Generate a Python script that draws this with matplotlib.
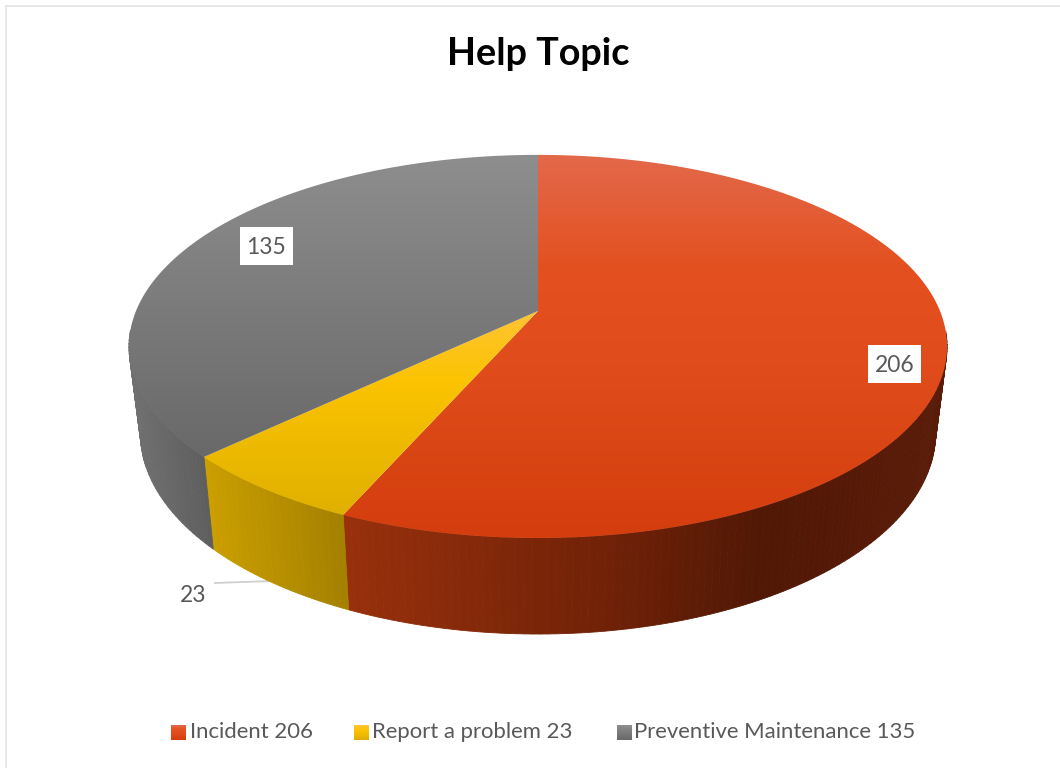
import numpy as np
import matplotlib
matplotlib.use("Agg")
import matplotlib.pyplot as plt
from matplotlib.patches import Polygon, Rectangle
from matplotlib.colors import LinearSegmentedColormap

plt.rcParams['font.family'] = ['Lato', 'DejaVu Sans']

title = "Help Topic"
categories = ["Incident", "Report a problem", "Preventive Maintenance"]
values = [206, 23, 135]

# top-face gradient stops (relative height in slice bbox)
top_stops = [
    [(0.0, "#E2694B"), (0.30, "#E4501F"), (0.55, "#E04C1B"), (1.0, "#D43E0E")],
    [(0.0, "#FFC433"), (0.35, "#FBC300"), (1.0, "#E0B000")],
    [(0.0, "#8E8E8E"), (0.5, "#7B7B7B"), (1.0, "#696969")],
]
# side-wall gradient stops (relative x in slice extent)
wall_stops = [
    [(0.0, "#98300C"), (0.45, "#6F2107"), (0.7, "#501805"), (1.0, "#5A1C09")],
    [(0.0, "#CB9F00"), (1.0, "#A48000")],
    [(0.0, "#707070"), (1.0, "#5E5E5E")],
]

# projection of the pie disc (pixels)
CX, CY, A, B, K = 538.0, 311.0, 402.0, 185.0, 0.185
CY2, B2, S2 = 396.0, 194.0, 0.972


def project(theta, cy, b, s):
    u, v = np.sin(theta), -np.cos(theta)
    w = 1 - K * v
    return CX + s * A * u / w, cy + b * v / w


fig = plt.figure(figsize=(10.6, 7.68), dpi=100, facecolor="white")
ax = fig.add_axes([0, 0, 1, 1])
ax.axis("off")

edges = np.concatenate([[0], np.cumsum(values)]) / np.sum(values) * 2 * np.pi

# side walls (only the part facing the viewer)
for i in range(len(values)):
    th = np.linspace(edges[i], edges[i + 1], int(max(8, (edges[i + 1] - edges[i]) * 60)))
    th = th[-np.cos(th) > 0.1]
    xt, yt = project(th, CY, B, 1.0)
    xb, yb = project(th, CY2, B2, S2)
    cm = LinearSegmentedColormap.from_list("w", wall_stops[i])
    xmin, xmax = xt.min(), xt.max()
    for j in range(len(th) - 1):
        if th[j + 1] - th[j] > 0.5:
            continue
        c = cm(np.clip((0.5 * (xt[j] + xt[j + 1]) - xmin) / max(xmax - xmin, 1), 0, 1))
        ax.add_patch(Polygon([(xt[j], yt[j]), (xt[j + 1], yt[j + 1]), (xb[j + 1], yb[j + 1]), (xb[j], yb[j])],
                             closed=True, facecolor=c, edgecolor=c, lw=0.6, zorder=2))

# top faces
for i in range(len(values)):
    th = np.linspace(edges[i], edges[i + 1], 300)
    xt, yt = project(th, CY, B, 1.0)
    px = np.concatenate([[CX], xt])
    py = np.concatenate([[CY], yt])
    cm = LinearSegmentedColormap.from_list("t", top_stops[i])
    grad = np.linspace(0, 1, 256).reshape(-1, 1)
    im = ax.imshow(grad, cmap=cm, extent=[px.min(), px.max(), py.max(), py.min()],
                   aspect="auto", origin="upper", zorder=3, interpolation="bilinear")
    poly = Polygon(np.column_stack([px, py]), closed=True, facecolor="none", edgecolor="none",
                   transform=ax.transData)
    ax.add_patch(poly)
    im.set_clip_path(poly)

ax.set_xlim(0, 1060)
ax.set_ylim(768, 0)

# chart frame
ax.plot([6, 6], [768, 6], color="#E4E4E4", lw=1.2, zorder=1)
ax.plot([6, 1060], [6, 6], color="#E4E4E4", lw=1.2, zorder=1)

ax.text(538, 54, title, fontsize=27.2, fontweight="bold", color="black", ha="center", va="center", zorder=6)

# data labels
LABEL_GREY = "#595959"
label_boxes = [(868, 345), None, (240, 227)]
label_pos = [(895, 366), (193, 596), (266, 247)]
for i, v in enumerate(values):
    if label_boxes[i] is not None:
        ax.add_patch(Rectangle(label_boxes[i], 53, 38, facecolor="white", edgecolor="none", zorder=5))
    ax.text(*label_pos[i], str(v), fontsize=16.5, color=LABEL_GREY, ha="center", va="center", zorder=6)
ax.plot([215, 272], [583, 581], color="#CFCFCF", lw=1.3, zorder=1)

# legend
swatch_x = [171, 354, 617]
text_x = [190, 372, 634]
for i, (c, v) in enumerate(zip(categories, values)):
    cm = LinearSegmentedColormap.from_list("l", top_stops[i])
    ax.imshow(np.linspace(0, 1, 32).reshape(-1, 1), cmap=cm, aspect="auto", origin="upper",
              extent=[swatch_x[i], swatch_x[i] + 14.5, 740, 725], zorder=4)
    ax.text(text_x[i], 732.5, f"{c} {v}", fontsize=15.9, color=LABEL_GREY, ha="left", va="center", zorder=6)

ax.set_xlim(0, 1060)
ax.set_ylim(768, 0)
fig.savefig("out.png", dpi=100, facecolor="white")
